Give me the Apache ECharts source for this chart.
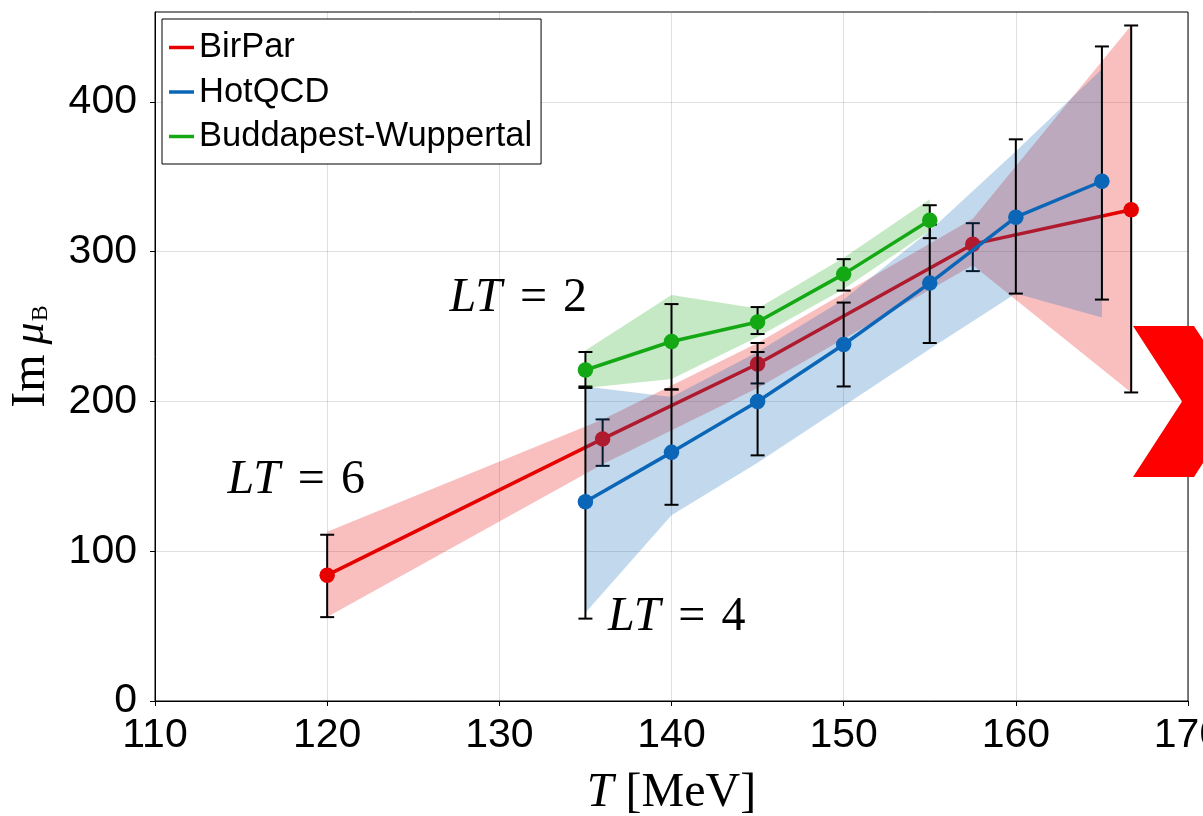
<!DOCTYPE html>
<html><head><meta charset="utf-8">
<script src="https://cdn.jsdelivr.net/npm/echarts@6/dist/echarts.min.js"></script>
<style>html,body{margin:0;padding:0;background:#fff}#c{width:1203px;height:816px}</style>
</head><body><div id="c"></div><script>
// ---- data ----
const xTicks = [110, 120, 130, 140, 150, 160, 170];
const yTicks = [0, 100, 200, 300, 400];

const birparT = [120, 136, 145, 157.5, 166.7];
const birparV = [84, 175, 225, 305, 328];
const birparErrLo = [56, 157, 212, 287, 206];
const birparErrHi = [111, 188, 239, 319, 451];
const birparBandLo = [56, 158, 209, 291, 206];
const birparBandHi = [113, 188, 239, 322, 451];

const hotT = [135, 140, 145, 150, 155, 160, 165];
const hotV = [133, 166, 200, 238, 279, 323, 347];
const hotErrLo = [55, 131, 164, 210, 239, 272, 268];
const hotErrHi = [210, 208, 233, 266, 318, 375, 437];
const hotBandLo = [59, 124, 159, 197, 235, 272, 256];
const hotBandHi = [210, 203, 233, 268, 314, 367, 422];

const bwT = [135, 140, 145, 150, 155];
const bwV = [221, 240, 253, 285, 321];
const bwErrLo = [209, 208, 245, 274, 309];
const bwErrHi = [233, 265, 263, 295, 331];
const bwBandLo = [209, 215, 243, 275, 314];
const bwBandHi = [234, 271, 262, 296, 335];

const annotT = [118.2, 131.1, 140.3];
const annotV = [147, 269, 56];
const annotLabel = ['6', '2', '4'];
const arrowMarker = [170, 200];

// ---- styles ----
const RED = '#e60000', BLUE = '#0b66b8', GREEN = '#15a815';
const SANS = 'Liberation Sans, Arial, Helvetica, sans-serif';
const SERIF = 'Liberation Serif, Times New Roman, serif';

function zip3(a, b, c) { return a.map((v, i) => [v, b[i], c[i]]); }

function bandSeries(name, T, lo, hi, color, z) {
  const data = zip3(T, lo, hi);
  return {
    type: 'custom', name: name, z: z, silent: true, data: data,
    encode: { x: 0, y: [1, 2] },
    renderItem: function (params, api) {
      if (params.dataIndex !== 0) return null;
      const up = data.map(d => api.coord([d[0], d[2]]));
      const dn = data.map(d => api.coord([d[0], d[1]])).reverse();
      return { type: 'polygon', shape: { points: up.concat(dn) },
        style: { fill: color, stroke: null } };
    }
  };
}

function errSeries(name, T, lo, hi, z) {
  return {
    type: 'custom', name: name, z: z, silent: true,
    data: zip3(T, lo, hi), encode: { x: 0, y: [1, 2] },
    renderItem: function (params, api) {
      const a = api.coord([api.value(0), api.value(1)]);
      const b = api.coord([api.value(0), api.value(2)]);
      const w = 7;
      const st = { stroke: '#000', lineWidth: 2 };
      return { type: 'group', children: [
        { type: 'line', shape: { x1: a[0], y1: a[1], x2: b[0], y2: b[1] }, style: st },
        { type: 'line', shape: { x1: a[0] - w, y1: a[1], x2: a[0] + w, y2: a[1] }, style: st },
        { type: 'line', shape: { x1: b[0] - w, y1: b[1], x2: b[0] + w, y2: b[1] }, style: st }
      ]};
    }
  };
}

function lineSeries(name, T, V, color, z) {
  return {
    type: 'line', name: name, z: z, silent: true,
    data: T.map((t, i) => [t, V[i]]),
    symbol: 'circle', symbolSize: 15.5, showSymbol: true,
    lineStyle: { color: color, width: 3.5 },
    itemStyle: { color: color },
    emphasis: { disabled: true }
  };
}

const chart = echarts.init(document.getElementById('c'), null, { renderer: 'canvas' });
chart.setOption({
  animation: false,
  backgroundColor: '#fff',
  grid: { left: 155, right: 15, top: 12, bottom: 115, show: true,
    containLabel: false, outerBoundsMode: 'none',
    borderColor: '#000', borderWidth: 1, backgroundColor: 'transparent' },
  legend: {
    left: 162, top: 19, orient: 'vertical', padding: [11, 9, 10, 7],
    itemGap: 9.5, itemWidth: 25, itemHeight: 3.5,
    backgroundColor: '#fff', borderColor: '#000', borderWidth: 1,
    selectedMode: false,
    textStyle: { fontFamily: SANS, fontSize: 34.5, color: '#000', lineHeight: 34 },
    data: [{ name: 'BirPar', icon: 'rect' }, { name: 'HotQCD', icon: 'rect' },
           { name: 'Buddapest-Wuppertal', icon: 'rect' }]
  },
  xAxis: {
    type: 'value', min: xTicks[0], max: xTicks[xTicks.length - 1], interval: 10,
    axisLine: { show: true, lineStyle: { color: '#000', width: 1 } },
    axisTick: { show: true, length: 5, inside: false, lineStyle: { color: '#000' } },
    axisLabel: { fontFamily: SANS, fontSize: 41, color: '#000', margin: 14 },
    splitLine: { show: true, lineStyle: { color: 'rgba(0,0,0,0.12)', width: 1 } },
    name: '{i|T}{r|[MeV]}', nameLocation: 'middle', nameGap: 68,
    nameTextStyle: { rich: {
      i: { fontFamily: SERIF, fontStyle: 'italic', fontSize: 48, color: '#000', padding: [0, 12, 0, 0] },
      r: { fontFamily: SERIF, fontSize: 48, color: '#000' } } }
  },
  yAxis: {
    type: 'value', min: 0, max: 460, interval: 100,
    axisLine: { show: true, lineStyle: { color: '#000', width: 1 } },
    axisTick: { show: true, length: 5, inside: false, lineStyle: { color: '#000' }, customValues: yTicks },
    axisLabel: { fontFamily: SANS, fontSize: 41, color: '#000', margin: 18, customValues: yTicks },
    splitLine: { show: true, lineStyle: { color: 'rgba(0,0,0,0.12)', width: 1 } },
    name: '{r|Im}{i|\u03bc}{s|B}', nameLocation: 'middle', nameGap: 100,
    nameTextStyle: { rich: {
      r: { fontFamily: SERIF, fontSize: 48, color: '#000', lineHeight: 48, padding: [0, 10, 0, 0] },
      i: { fontFamily: SERIF, fontStyle: 'italic', fontSize: 44, color: '#000', lineHeight: 48 },
      s: { fontFamily: SERIF, fontSize: 24, color: '#000', lineHeight: 48, verticalAlign: 'bottom', padding: [0, 0, 2, 1] } } }
  },
  series: [
    bandSeries('birparBand', birparT, birparBandLo, birparBandHi, 'rgba(230,0,0,0.25)', 2),
    errSeries('birparErr', birparT, birparErrLo, birparErrHi, 3),
    lineSeries('BirPar', birparT, birparV, RED, 4),
    bandSeries('hotBand', hotT, hotBandLo, hotBandHi, 'rgba(11,102,184,0.25)', 5),
    errSeries('hotErr', hotT, hotErrLo, hotErrHi, 6),
    lineSeries('HotQCD', hotT, hotV, BLUE, 7),
    bandSeries('bwBand', bwT, bwBandLo, bwBandHi, 'rgba(21,168,21,0.25)', 8),
    errSeries('bwErr', bwT, bwErrLo, bwErrHi, 9),
    lineSeries('Buddapest-Wuppertal', bwT, bwV, GREEN, 10),
    {
      type: 'scatter', name: 'annot', z: 11, silent: true, clip: false,
      data: annotT.map((t, i) => [t, annotV[i], annotLabel[i]]),
      symbolSize: 1, itemStyle: { color: 'rgba(0,0,0,0)' },
      label: { show: true, position: 'inside', opacity: 1,
        formatter: p => '{i|LT}{e|=}{r|' + p.value[2] + '}',
        rich: {
          i: { fontFamily: SERIF, fontStyle: 'italic', fontSize: 48, color: '#000' },
          e: { fontFamily: SERIF, fontSize: 48, color: '#000', padding: [0, 16, 0, 18] },
          r: { fontFamily: SERIF, fontSize: 48, color: '#000' } } }
    },
    {
      type: 'scatter', name: 'arrow', z: 12, silent: true, clip: false,
      data: [arrowMarker],
      symbol: 'path://M0,0 L61,0 L110,75.5 L61,151 L0,151 L49,75.5 Z',
      symbolSize: [110, 151], itemStyle: { color: '#ff0000', opacity: 1 }
    }
  ]
});
</script></body></html>
